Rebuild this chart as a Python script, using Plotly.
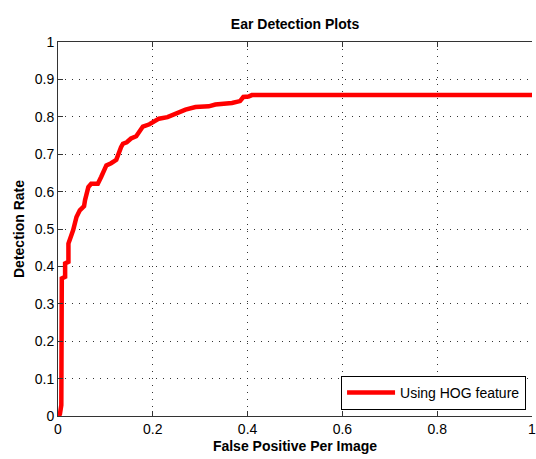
import plotly.graph_objects as go

fppi = [0.0, 0.004, 0.007, 0.008, 0.015, 0.015, 0.022, 0.022, 0.032, 0.039, 0.046, 0.055,
        0.057, 0.064, 0.070, 0.084, 0.091, 0.102, 0.112, 0.123, 0.133, 0.137, 0.145,
        0.154, 0.165, 0.179, 0.193, 0.203, 0.213, 0.231, 0.245, 0.269, 0.290, 0.318,
        0.332, 0.367, 0.384, 0.391, 0.402, 0.409, 1.0]
det_rate = [0.0, 0.005, 0.029, 0.368, 0.372, 0.408, 0.412, 0.461, 0.497, 0.532, 0.550, 0.561,
            0.577, 0.612, 0.621, 0.621, 0.639, 0.670, 0.676, 0.685, 0.719, 0.728, 0.732,
            0.742, 0.748, 0.774, 0.780, 0.789, 0.795, 0.799, 0.806, 0.819, 0.826, 0.828,
            0.833, 0.837, 0.842, 0.853, 0.854, 0.858, 0.858]

tick_vals_x = [0, 0.2, 0.4, 0.6, 0.8, 1]
tick_text_x = ["0", "0.2", "0.4", "0.6", "0.8", "1"]
tick_vals_y = [0, 0.1, 0.2, 0.3, 0.4, 0.5, 0.6, 0.7, 0.8, 0.9, 1]
tick_text_y = ["0", "0.1", "0.2", "0.3", "0.4", "0.5", "0.6", "0.7", "0.8", "0.9", "1"]

font_family = "Liberation Sans, Arial, sans-serif"

fig = go.Figure()
fig.add_trace(go.Scatter(
    x=fppi, y=det_rate, mode="lines", name="Using HOG feature",
    line=dict(color="#ff0000", width=4.5),
))

axis_common = dict(
    showgrid=True, gridcolor="#333333", gridwidth=1, griddash="1px,6px",
    zeroline=False, showline=True, linecolor="#333333", linewidth=1,
    ticks="inside", ticklen=5, tickcolor="#333333",
    ticklabeloverflow="allow",
    tickfont=dict(family=font_family, size=14, color="black"),
    title_font=dict(family=font_family, size=14, color="black"),
)

fig.update_layout(
    width=536, height=459,
    margin=dict(l=58, r=0, t=42, b=43),
    paper_bgcolor="white", plot_bgcolor="white",
    title=dict(text="<b>Ear Detection Plots</b>", x=0.5, xref="paper", xanchor="center",
               y=1 - 24 / 459, yanchor="middle",
               font=dict(family=font_family, size=14, color="black")),
    xaxis=dict(range=[0, 1], tickvals=tick_vals_x, ticktext=tick_text_x,
               title=dict(text="<b>False Positive Per Image</b>", standoff=5),
               mirror="ticks", **axis_common),
    yaxis=dict(range=[0, 1], tickvals=tick_vals_y, ticktext=tick_text_y,
               title=dict(text="<b>Detection Rate</b>", standoff=6),
               **axis_common),
    showlegend=True,
    legend=dict(x=(530 - 58) / 478, xanchor="right", y=6 / 374, yanchor="bottom",
                bordercolor="black", borderwidth=1, bgcolor="white", itemwidth=48,
                font=dict(family=font_family, size=14, color="black")),
)

fig.write_html("out.html", config={"displayModeBar": False},
               post_script="document.body.style.margin='0';document.body.style.overflow='hidden';")
